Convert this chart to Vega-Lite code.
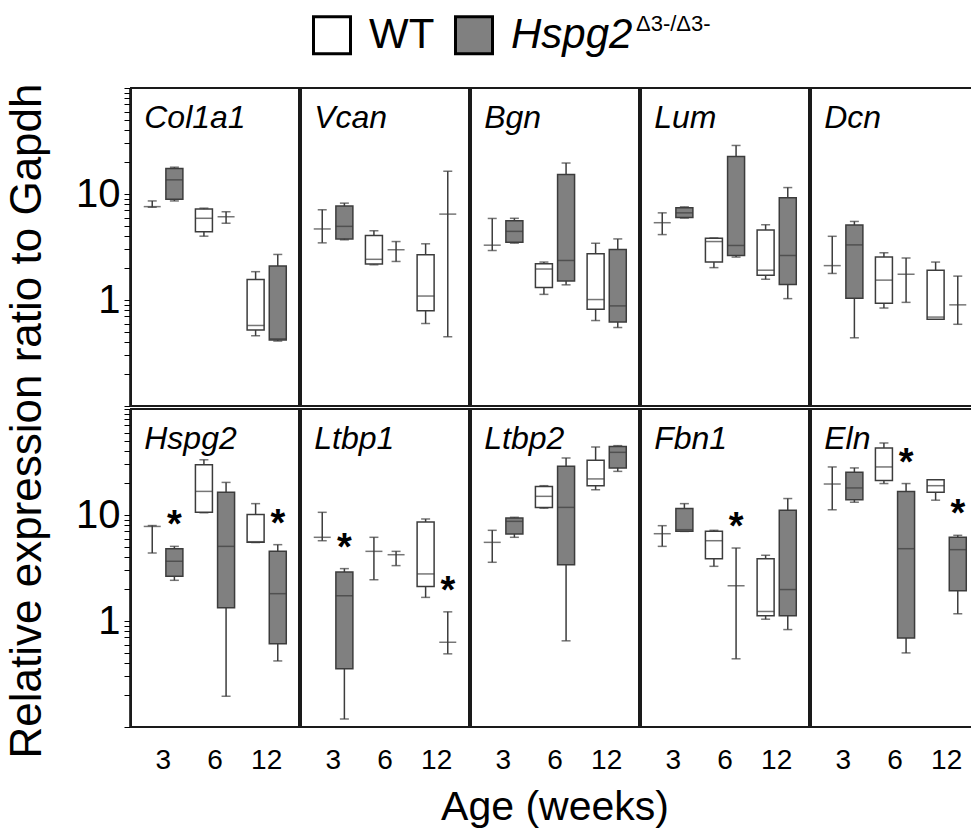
{
  "$schema": "https://vega.github.io/schema/vega-lite/v6.json",
  "background": "white",
  "padding": {"left": 5, "top": 14, "right": 0, "bottom": 5},
  "config": {
    "view": {"stroke": "#1a1a1a", "strokeWidth": 2},
    "font": "Liberation Sans, Arial, sans-serif",
    "header": {"labels": false}
  },
  "title": {"text": "Relative expression ratio to Gapdh", "orient": "left", "anchor": "middle", "fontSize": 44, "fontWeight": "normal", "offset": 26, "color": "black"},
  "data": {"values": [
    {"gene":"Col1a1","age":3,"geno":"WT","min":7.5,"q1":null,"median":7.6,"q3":null,"max":8.6,"star":""},
    {"gene":"Col1a1","age":3,"geno":"Hspg2","min":8.6,"q1":8.9,"median":13.6,"q3":17.4,"max":17.9,"star":""},
    {"gene":"Col1a1","age":6,"geno":"WT","min":4.0,"q1":4.4,"median":5.9,"q3":7.2,"max":7.35,"star":""},
    {"gene":"Col1a1","age":6,"geno":"Hspg2","min":5.3,"q1":null,"median":6.1,"q3":null,"max":6.8,"star":""},
    {"gene":"Col1a1","age":12,"geno":"WT","min":0.46,"q1":0.52,"median":0.575,"q3":1.56,"max":1.85,"star":""},
    {"gene":"Col1a1","age":12,"geno":"Hspg2","min":0.41,"q1":0.42,"median":0.43,"q3":2.09,"max":2.69,"star":""},
    {"gene":"Vcan","age":3,"geno":"WT","min":3.46,"q1":null,"median":4.68,"q3":null,"max":7.1,"star":""},
    {"gene":"Vcan","age":3,"geno":"Hspg2","min":3.7,"q1":3.77,"median":4.95,"q3":7.7,"max":8.2,"star":""},
    {"gene":"Vcan","age":6,"geno":"WT","min":2.15,"q1":2.18,"median":2.42,"q3":4.05,"max":4.5,"star":""},
    {"gene":"Vcan","age":6,"geno":"Hspg2","min":2.31,"q1":null,"median":2.98,"q3":null,"max":3.56,"star":""},
    {"gene":"Vcan","age":12,"geno":"WT","min":0.6,"q1":0.79,"median":1.09,"q3":2.67,"max":3.39,"star":""},
    {"gene":"Vcan","age":12,"geno":"Hspg2","min":0.45,"q1":null,"median":6.46,"q3":null,"max":16.4,"star":""},
    {"gene":"Bgn","age":3,"geno":"WT","min":2.93,"q1":null,"median":3.29,"q3":null,"max":5.88,"star":""},
    {"gene":"Bgn","age":3,"geno":"Hspg2","min":3.44,"q1":3.51,"median":4.44,"q3":5.6,"max":5.9,"star":""},
    {"gene":"Bgn","age":6,"geno":"WT","min":1.13,"q1":1.31,"median":1.96,"q3":2.2,"max":2.28,"star":""},
    {"gene":"Bgn","age":6,"geno":"Hspg2","min":1.39,"q1":1.51,"median":2.36,"q3":15.3,"max":19.6,"star":""},
    {"gene":"Bgn","age":12,"geno":"WT","min":0.64,"q1":0.82,"median":1.01,"q3":2.73,"max":3.43,"star":""},
    {"gene":"Bgn","age":12,"geno":"Hspg2","min":0.55,"q1":0.62,"median":0.88,"q3":3.0,"max":3.77,"star":""},
    {"gene":"Lum","age":3,"geno":"WT","min":4.14,"q1":null,"median":5.36,"q3":null,"max":6.64,"star":""},
    {"gene":"Lum","age":3,"geno":"Hspg2","min":5.93,"q1":6.0,"median":6.64,"q3":7.4,"max":7.56,"star":""},
    {"gene":"Lum","age":6,"geno":"WT","min":2.02,"q1":2.28,"median":3.56,"q3":3.83,"max":3.85,"star":""},
    {"gene":"Lum","age":6,"geno":"Hspg2","min":2.54,"q1":2.63,"median":3.27,"q3":22.6,"max":28.7,"star":""},
    {"gene":"Lum","age":12,"geno":"WT","min":1.57,"q1":1.71,"median":1.91,"q3":4.58,"max":5.13,"star":""},
    {"gene":"Lum","age":12,"geno":"Hspg2","min":1.03,"q1":1.4,"median":2.63,"q3":9.24,"max":11.5,"star":""},
    {"gene":"Dcn","age":3,"geno":"WT","min":1.78,"q1":null,"median":2.11,"q3":null,"max":3.99,"star":""},
    {"gene":"Dcn","age":3,"geno":"Hspg2","min":0.44,"q1":1.04,"median":3.31,"q3":5.1,"max":5.51,"star":""},
    {"gene":"Dcn","age":6,"geno":"WT","min":0.84,"q1":0.93,"median":1.54,"q3":2.54,"max":2.79,"star":""},
    {"gene":"Dcn","age":6,"geno":"Hspg2","min":0.95,"q1":null,"median":1.75,"q3":null,"max":2.49,"star":""},
    {"gene":"Dcn","age":12,"geno":"WT","min":0.66,"q1":0.66,"median":0.69,"q3":1.91,"max":2.28,"star":""},
    {"gene":"Dcn","age":12,"geno":"Hspg2","min":0.59,"q1":null,"median":0.9,"q3":null,"max":1.68,"star":""},
    {"gene":"Hspg2","age":3,"geno":"WT","min":4.38,"q1":null,"median":7.8,"q3":null,"max":7.95,"star":""},
    {"gene":"Hspg2","age":3,"geno":"Hspg2","min":2.42,"q1":2.64,"median":3.66,"q3":4.81,"max":5.06,"star":"*"},
    {"gene":"Hspg2","age":6,"geno":"WT","min":10.5,"q1":10.6,"median":16.7,"q3":29.8,"max":33.2,"star":""},
    {"gene":"Hspg2","age":6,"geno":"Hspg2","min":0.195,"q1":1.33,"median":5.06,"q3":16.4,"max":20.3,"star":""},
    {"gene":"Hspg2","age":12,"geno":"WT","min":5.5,"q1":5.52,"median":5.6,"q3":10.1,"max":12.8,"star":""},
    {"gene":"Hspg2","age":12,"geno":"Hspg2","min":0.42,"q1":0.61,"median":1.81,"q3":4.54,"max":5.25,"star":"*"},
    {"gene":"Ltbp1","age":3,"geno":"WT","min":5.72,"q1":null,"median":6.16,"q3":null,"max":10.6,"star":""},
    {"gene":"Ltbp1","age":3,"geno":"Hspg2","min":0.119,"q1":0.355,"median":1.73,"q3":2.9,"max":3.12,"star":"*"},
    {"gene":"Ltbp1","age":6,"geno":"WT","min":2.45,"q1":null,"median":4.54,"q3":null,"max":6.16,"star":""},
    {"gene":"Ltbp1","age":6,"geno":"Hspg2","min":3.33,"q1":null,"median":4.22,"q3":null,"max":4.54,"star":""},
    {"gene":"Ltbp1","age":12,"geno":"WT","min":1.67,"q1":2.12,"median":2.78,"q3":8.59,"max":9.17,"star":""},
    {"gene":"Ltbp1","age":12,"geno":"Hspg2","min":0.49,"q1":null,"median":0.63,"q3":null,"max":1.22,"star":"*"},
    {"gene":"Ltbp2","age":3,"geno":"WT","min":3.58,"q1":null,"median":5.52,"q3":null,"max":7.17,"star":""},
    {"gene":"Ltbp2","age":3,"geno":"Hspg2","min":6.16,"q1":6.62,"median":8.71,"q3":9.37,"max":9.51,"star":""},
    {"gene":"Ltbp2","age":6,"geno":"WT","min":11.6,"q1":11.8,"median":15.0,"q3":18.6,"max":18.9,"star":""},
    {"gene":"Ltbp2","age":6,"geno":"Hspg2","min":0.65,"q1":3.4,"median":11.8,"q3":28.8,"max":34.5,"star":""},
    {"gene":"Ltbp2","age":12,"geno":"WT","min":17.3,"q1":18.9,"median":21.9,"q3":32.8,"max":43.8,"star":""},
    {"gene":"Ltbp2","age":12,"geno":"Hspg2","min":25.8,"q1":27.8,"median":39.0,"q3":44.4,"max":45.1,"star":""},
    {"gene":"Fbn1","age":3,"geno":"WT","min":5.06,"q1":null,"median":6.66,"q3":null,"max":7.93,"star":""},
    {"gene":"Fbn1","age":3,"geno":"Hspg2","min":7.0,"q1":7.02,"median":7.27,"q3":11.5,"max":12.8,"star":""},
    {"gene":"Fbn1","age":6,"geno":"WT","min":3.28,"q1":3.87,"median":5.72,"q3":7.02,"max":7.17,"star":""},
    {"gene":"Fbn1","age":6,"geno":"Hspg2","min":0.44,"q1":null,"median":2.15,"q3":null,"max":4.88,"star":"*"},
    {"gene":"Fbn1","age":12,"geno":"WT","min":1.04,"q1":1.12,"median":1.23,"q3":3.87,"max":4.17,"star":""},
    {"gene":"Fbn1","age":12,"geno":"Hspg2","min":0.83,"q1":1.12,"median":1.98,"q3":11.1,"max":14.3,"star":""},
    {"gene":"Eln","age":3,"geno":"WT","min":11.2,"q1":null,"median":19.6,"q3":null,"max":28.4,"star":""},
    {"gene":"Eln","age":3,"geno":"Hspg2","min":13.2,"q1":13.9,"median":18.0,"q3":25.3,"max":27.8,"star":""},
    {"gene":"Eln","age":6,"geno":"WT","min":19.8,"q1":21.2,"median":28.4,"q3":42.9,"max":47.8,"star":""},
    {"gene":"Eln","age":6,"geno":"Hspg2","min":0.5,"q1":0.69,"median":4.81,"q3":16.7,"max":19.8,"star":"*"},
    {"gene":"Eln","age":12,"geno":"WT","min":13.8,"q1":16.4,"median":18.9,"q3":21.5,"max":21.5,"star":""},
    {"gene":"Eln","age":12,"geno":"Hspg2","min":1.17,"q1":1.93,"median":4.71,"q3":6.16,"max":6.43,"star":"*"}
  ]},
  "columns": 5,
  "spacing": 0,
  "facet": {
    "field": "gene", "type": "nominal",
    "sort": ["Col1a1","Vcan","Bgn","Lum","Dcn","Hspg2","Ltbp1","Ltbp2","Fbn1","Eln"],
    "header": {"labels": false, "labelExpr": "''", "labelPadding": 0, "labelFontSize": 1, "title": "Age (weeks)", "titleOrient": "bottom", "titleFontSize": 41, "titleFontWeight": "normal", "titlePadding": 14, "titleColor": "black"}
  },
  "spec": {
    "width": 168,
    "height": 318,
    "encoding": {
      "x": {"field": "age", "type": "ordinal", "sort": "ascending",
        "scale": {"paddingInner": 0.25, "paddingOuter": 0.25},
        "axis": {"title": null, "labelAngle": 0, "ticks": false, "domain": false, "labelFontSize": 28, "labelPadding": 18, "labelColor": "black"}},
      "xOffset": {"field": "geno", "type": "nominal", "sort": ["WT","Hspg2"], "scale": {"paddingInner": 0.25, "paddingOuter": 0}}
    },
    "layer": [
      {
        "mark": {"type": "rule", "stroke": "#3c3c3c", "strokeWidth": 1.5},
        "encoding": {
          "y": {"field": "min", "type": "quantitative",
            "scale": {"type": "log", "domain": [0.1, 100]},
            "axis": {"title": null, "grid": false,
              "values": [0.1,0.2,0.3,0.4,0.5,0.6,0.7,0.8,0.9,1,2,3,4,5,6,7,8,9,10,20,30,40,50,60,70,80,90,100],
              "format": "~g",
              "labelExpr": "datum.value == 1 || datum.value == 10 ? datum.label : ''",
              "labelOverlap": false, "labelFlush": false,
              "tickSize": 6, "tickColor": "black", "domainColor": "black", "domainWidth": 2.5,
              "labelFontSize": 40, "labelColor": "black", "labelPadding": 4}},
          "y2": {"field": "max"}
        }
      },
      {
        "mark": {"type": "tick", "size": 9, "thickness": 1.5, "color": "#3c3c3c"},
        "encoding": {"y": {"field": "min", "type": "quantitative"}}
      },
      {
        "mark": {"type": "tick", "size": 9, "thickness": 1.5, "color": "#3c3c3c"},
        "encoding": {"y": {"field": "max", "type": "quantitative"}}
      },
      {
        "transform": [{"filter": "datum.q1 != null"}],
        "mark": {"type": "bar", "width": 17, "stroke": "#3c3c3c", "strokeWidth": 1.5},
        "encoding": {
          "y": {"field": "q1", "type": "quantitative"},
          "y2": {"field": "q3"},
          "fill": {"field": "geno", "type": "nominal",
            "scale": {"domain": ["WT","Hspg2"], "range": ["white","#808080"]},
            "legend": {"orient": "none", "legendX": 180, "legendY": -74, "direction": "horizontal",
              "title": "Δ3-/Δ3-", "titleOrient": "right", "titleFontSize": 22, "titleFontWeight": "normal", "titleColor": "black",
              "titleAnchor": "start", "titleBaseline": "top", "titlePadding": 4,
              "symbolType": "square", "symbolSize": 1369, "symbolStrokeColor": "black", "symbolStrokeWidth": 3, "symbolOpacity": 1,
              "labelFontSize": 42, "labelColor": "black", "labelLimit": 0, "labelOffset": 16, "columnPadding": 14,
              "encode": {"labels": {"update": {"fontStyle": {"signal": "datum.value == 'Hspg2' ? 'italic' : 'normal'"}}}}}
          }
        }
      },
      {
        "mark": {"type": "tick", "size": 17, "thickness": 1.5, "color": "#3c3c3c"},
        "encoding": {"y": {"field": "median", "type": "quantitative"}}
      },
      {
        "transform": [{"filter": "datum.star != ''"}],
        "mark": {"type": "text", "fontSize": 38, "fontWeight": "bold", "baseline": "alphabetic", "dy": -9, "color": "black"},
        "encoding": {
          "y": {"field": "max", "type": "quantitative"},
          "text": {"field": "star"}
        }
      },
      {
        "transform": [{"filter": "datum.age == 3 && datum.geno == 'WT'"}],
        "mark": {"type": "text", "align": "left", "baseline": "middle", "fontSize": 32, "fontStyle": "italic", "dx": -8, "color": "black"},
        "encoding": {
          "y": {"datum": 52, "type": "quantitative"},
          "text": {"field": "gene"}
        }
      }
    ]
  }
}
